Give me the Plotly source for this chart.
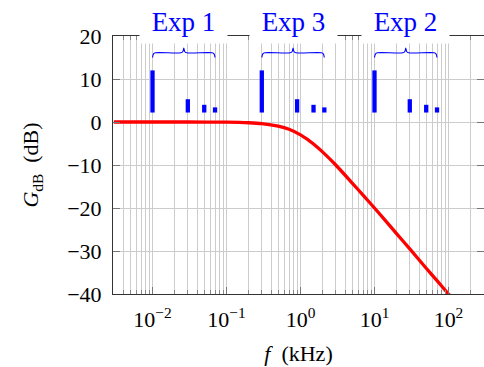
import numpy as np
import plotly.graph_objects as go

# ---- data ----
freq_khz = [0.003, 0.01, 0.03, 0.1, 0.2, 0.3, 0.5, 0.7, 1.0, 1.5, 2.0, 3.0,
            5.0, 7.0, 10.0, 20.0, 30.0, 50.0, 70.0, 100.0, 120.0]
gain_db = [0.0, 0.0, 0.0, -0.04, -0.17, -0.37, -0.97, -1.7, -3.0, -5.1, -7.0,
           -10.0, -14.2, -17.0, -20.0, -26.0, -29.5, -34.0, -36.9, -40.0, -41.6]

exp_names = ["Exp 1", "Exp 3", "Exp 2"]
exp1_freq = [0.01, 0.03, 0.05, 0.07]
exp3_freq = [0.3, 0.9, 1.5, 2.1]
exp2_freq = [10.0, 30.0, 50.0, 70.0]
bar_top_db = [12.0, 5.3, 4.0, 3.4]
bar_base_db = 2.2

x_tick_vals = [0.01, 0.1, 1, 10, 100]
x_tick_text = ["10<sup>\u22122</sup>", "10<sup>\u22121</sup>", "10<sup>0</sup>",
               "10<sup>1</sup>", "10<sup>2</sup>"]
x_minor_vals = [m * 10.0 ** k for k in range(-3, 3) for m in range(2, 10)]
y_tick_vals = [-40, -30, -20, -10, 0, 10, 20]

FONT = "Liberation Serif"
BLUE = "#0000ff"

fig = go.Figure()

groups = [exp1_freq, exp3_freq, exp2_freq]
annotations = []
for name, fr in zip(exp_names, groups):
    bx, by = [], []
    for f, top in zip(fr, bar_top_db):
        bx += [f, f, None]
        by += [bar_base_db, top, None]
    fig.add_trace(go.Scatter(x=bx, y=by, mode="lines",
                             line=dict(color=BLUE, width=4.3),
                             hoverinfo="skip", showlegend=False))
    # brace over the group
    L, R = np.log10(fr[0]), np.log10(fr[-1])
    M = (L + R) / 2
    d = 0.04
    xl = [L, L + d * 0.35, L + d, M - d, M - d * 0.3, M, M + d * 0.3, M + d, R - d, R - d * 0.35, R]
    yl = [15.0, 15.85, 16.1, 16.1, 16.4, 17.2, 16.4, 16.1, 16.1, 15.85, 15.0]
    fig.add_trace(go.Scatter(x=[10 ** v for v in xl], y=yl, mode="lines",
                             line=dict(color=BLUE, width=1.1, shape="spline", smoothing=0.8),
                             hoverinfo="skip", showlegend=False))
    annotations.append(dict(x=M, y=1, xref="x", yref="paper", yshift=15,
                            xanchor="center", yanchor="middle",
                            text=name, showarrow=False, bgcolor="white",
                            width=87, height=43, borderpad=0, valign="middle",
                            font=dict(family=FONT, size=27, color=BLUE)))

fig.add_trace(go.Scatter(x=freq_khz, y=gain_db, mode="lines",
                         line=dict(color="#ff0000", width=3.3, shape="spline", smoothing=0.6),
                         hoverinfo="skip", showlegend=False))

grid_col = "#cccccc"
fig.update_layout(
    width=484, height=367,
    margin=dict(l=113, r=0, t=36, b=73),
    plot_bgcolor="white", paper_bgcolor="white",
    showlegend=False,
    annotations=annotations,
    font=dict(family=FONT, size=22, color="black"),
    xaxis=dict(
        type="log", range=[-2.534, 2.48],
        tickvals=x_tick_vals, ticktext=x_tick_text,
        showgrid=True, gridcolor=grid_col, gridwidth=1,
        showline=True, linecolor="#333333", linewidth=1, mirror="ticks",
        ticks="inside", ticklen=7, tickcolor="#777777",
        ticklabelstandoff=6,
        tickfont=dict(family=FONT, size=22),
        minor=dict(tickvals=x_minor_vals, showgrid=True, gridcolor=grid_col,
                   ticks="inside", ticklen=4, tickcolor="#888888"),
        title=dict(text="<i>f</i>  (kHz)", font=dict(family=FONT, size=22), standoff=14),
        zeroline=False,
    ),
    yaxis=dict(
        range=[-40, 20], tickvals=y_tick_vals,
        showgrid=True, gridcolor=grid_col, gridwidth=1,
        showline=True, linecolor="#333333", linewidth=1, mirror="ticks",
        ticks="inside", ticklen=7, tickcolor="#777777",
        ticklabelstandoff=6,
        tickfont=dict(family=FONT, size=22),
        title=dict(text="<i>G</i><sub>dB</sub>  (dB)", font=dict(family=FONT, size=22), standoff=22),
        zeroline=False,
    ),
)

fig.write_html(
    "out.html",
    config={"displayModeBar": False, "staticPlot": True},
    post_script="document.body.style.margin='0';document.body.style.overflow='hidden';",
)
